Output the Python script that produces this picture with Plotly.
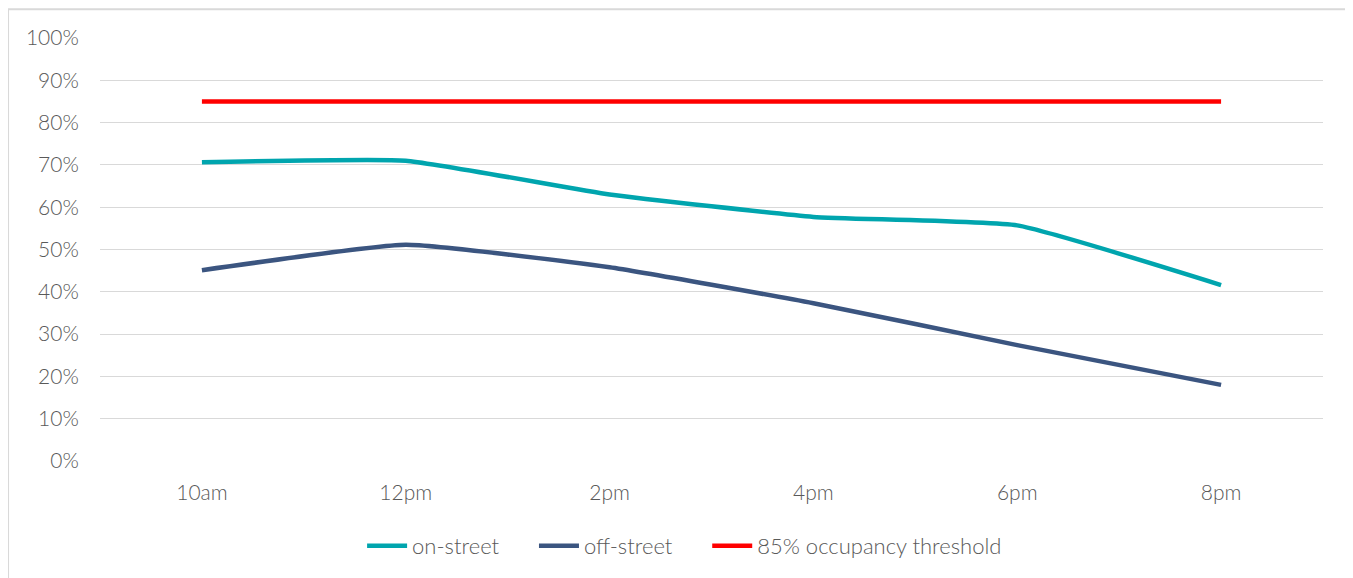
import plotly.graph_objects as go

times = ["10am", "12pm", "2pm", "4pm", "6pm", "8pm"]
on_street = [0.706, 0.710, 0.630, 0.577, 0.557, 0.416]
off_street = [0.451, 0.511, 0.458, 0.373, 0.274, 0.180]
threshold = [0.85, 0.85, 0.85, 0.85, 0.85, 0.85]

font_name = "Lato"
grey_text = "#595959"
gap = "\u00a0" * 5

fig = go.Figure()
fig.add_trace(go.Scatter(x=times, y=on_street, name="on-street" + gap, mode="lines",
                         line=dict(color="#00A5AE", width=4.5, shape="spline", smoothing=0.4)))
fig.add_trace(go.Scatter(x=times, y=off_street, name="off-street" + gap, mode="lines",
                         line=dict(color="#3B5580", width=4.5, shape="spline", smoothing=0.4)))
fig.add_trace(go.Scatter(x=times, y=threshold, name="85% occupancy threshold", mode="lines",
                         line=dict(color="#FF0000", width=4.5)))

# chart border (bottom edge falls outside the window, like the reference)
fig.add_shape(type="rect", xref="paper", yref="paper",
              x0=-0.0752, x1=1.0229, y0=-0.32, y1=1.068,
              line=dict(color="#d9d9d9", width=2), layer="below")

# page body adds 8px offset, so the figure is drawn 8px smaller
fig.update_layout(
    width=1345, height=570,
    margin=dict(l=92, r=30, t=30, b=116),
    paper_bgcolor="white", plot_bgcolor="white",
    font=dict(family=font_name, size=21, color=grey_text, weight=300),
    showlegend=True,
    legend=dict(orientation="h", x=0.478, xanchor="center", y=-0.198, yanchor="middle",
                font=dict(size=22, color=grey_text, weight=300), itemwidth=40),
    xaxis=dict(type="category", range=[-0.5, 5.5], showgrid=False, zeroline=False,
               showline=False, ticks="outside", ticklen=13, tickcolor="white",
               tickfont=dict(size=21, color=grey_text, weight=300)),
    yaxis=dict(range=[0, 1], dtick=0.1, tickformat=".0%", showgrid=True,
               gridcolor="#d9d9d9", gridwidth=1, zeroline=False, showline=False,
               ticks="outside", ticklen=16, tickcolor="white",
               tickfont=dict(size=21, color=grey_text, weight=300)),
)

fig.write_html("out.html")
